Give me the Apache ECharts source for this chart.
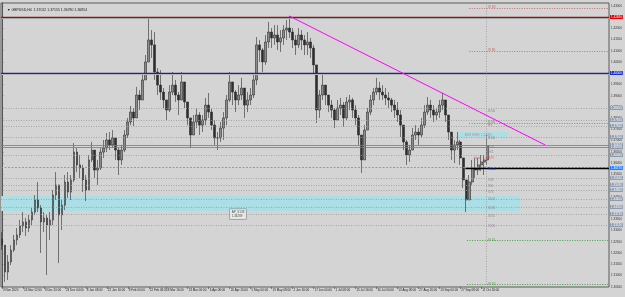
<!DOCTYPE html>
<html lang="en">
<head>
<meta charset="UTF-8">
<title>GBPUSD,H4</title>
<script src="https://cdn.jsdelivr.net/npm/echarts@6.0.0/dist/echarts.min.js"></script>
<style>
  html, body { margin: 0; padding: 0; background: #d4d4d4; }
  #chart { width: 625px; height: 297px; }
</style>
</head>
<body>
<div id="chart"></div>
<script>
// H4 candles (one candle per ~3px column)
const highs = [
  1.3293,1.3213,1.3191,1.3235,1.3280,1.3311,1.3347,1.3382,1.3356,1.3369,
  1.3400,1.3458,1.3516,1.3413,1.3382,1.3369,1.3382,1.3480,1.3560,1.3503,
  1.3436,1.3547,1.3560,1.3547,1.3689,1.3667,1.3636,1.3592,1.3547,1.3636,
  1.3694,1.3658,1.3614,1.3667,1.3703,1.3734,1.3738,1.3747,1.3712,1.3667,
  1.3681,1.3747,1.3801,1.3854,1.3845,1.3939,1.3925,1.3992,1.4081,1.4250,
  1.4192,1.4183,1.4023,1.4014,1.3934,1.3881,1.3947,1.4005,1.3970,1.3916,
  1.4005,1.3947,1.3858,1.3792,1.3814,1.3845,1.3827,1.3814,1.3890,1.3912,
  1.3845,1.3792,1.3738,1.3783,1.3827,1.3903,1.4005,1.3961,1.3925,1.3947,
  1.3979,1.3934,1.3916,1.3934,1.3992,1.4161,1.4148,1.4112,1.4170,1.4228,
  1.4201,1.4214,1.4214,1.4192,1.4214,1.4237,1.4255,1.4201,1.4170,1.4201,
  1.4192,1.4170,1.4183,1.4157,1.4126,1.3947,1.3925,1.4001,1.3947,1.3903,
  1.3881,1.3845,1.3881,1.3890,1.3872,1.3894,1.3903,1.3890,1.3858,1.3814,
  1.3703,1.3769,1.3845,1.3903,1.3934,1.3979,1.3961,1.3947,1.3934,1.3916,
  1.3890,1.3881,1.3872,1.3836,1.3769,1.3703,1.3681,1.3756,1.3769,1.3756,
  1.3801,1.3858,1.3894,1.3881,1.3858,1.3845,1.3881,1.3912,1.3872,1.3801,
  1.3725,1.3703,1.3738,1.3703,1.3623,1.3503,1.3547,1.3614,1.3623,1.3623,
  1.3636,1.3636,1.3725
];
const lows = [
  1.3213,1.3071,1.3080,1.3146,1.3204,1.3235,1.3267,1.3293,1.3276,1.3293,
  1.3324,1.3369,1.3382,1.3200,1.3293,1.3102,1.3258,1.3324,1.3436,1.3155,
  1.3302,1.3391,1.3445,1.3436,1.3516,1.3560,1.3534,1.3471,1.3431,1.3503,
  1.3605,1.3534,1.3503,1.3569,1.3623,1.3649,1.3658,1.3667,1.3614,1.3547,
  1.3592,1.3649,1.3712,1.3769,1.3765,1.3814,1.3836,1.3881,1.3970,1.4059,
  1.4068,1.3970,1.3903,1.3881,1.3845,1.3792,1.3827,1.3903,1.3872,1.3814,
  1.3881,1.3845,1.3769,1.3667,1.3725,1.3756,1.3725,1.3738,1.3769,1.3801,
  1.3747,1.3681,1.3658,1.3694,1.3703,1.3769,1.3872,1.3858,1.3827,1.3858,
  1.3881,1.3801,1.3827,1.3858,1.3890,1.3947,1.4050,1.4005,1.4037,1.4112,
  1.4112,1.4126,1.4103,1.4094,1.4126,1.4148,1.4157,1.4112,1.4081,1.4112,
  1.4103,1.4081,1.4081,1.4068,1.3992,1.3778,1.3801,1.3881,1.3858,1.3827,
  1.3801,1.3756,1.3801,1.3814,1.3761,1.3792,1.3836,1.3801,1.3769,1.3681,
  1.3556,1.3623,1.3747,1.3814,1.3858,1.3903,1.3881,1.3881,1.3858,1.3845,
  1.3827,1.3801,1.3783,1.3716,1.3658,1.3592,1.3605,1.3658,1.3703,1.3681,
  1.3712,1.3756,1.3814,1.3801,1.3783,1.3792,1.3801,1.3836,1.3783,1.3703,
  1.3614,1.3600,1.3658,1.3592,1.3489,1.3382,1.3436,1.3503,1.3534,1.3547,
  1.3565,1.3547,1.3592
];
const closes = [
  1.3235,1.3115,1.3160,1.3213,1.3258,1.3280,1.3320,1.3338,1.3311,1.3347,
  1.3382,1.3436,1.3400,1.3338,1.3356,1.3324,1.3347,1.3458,1.3503,1.3369,
  1.3413,1.3516,1.3471,1.3525,1.3649,1.3592,1.3578,1.3525,1.3480,1.3614,
  1.3658,1.3569,1.3578,1.3649,1.3667,1.3703,1.3681,1.3712,1.3658,1.3614,
  1.3658,1.3725,1.3783,1.3827,1.3801,1.3903,1.3881,1.3970,1.4050,1.4148,
  1.4126,1.4005,1.3947,1.3916,1.3881,1.3836,1.3916,1.3947,1.3903,1.3881,
  1.3961,1.3872,1.3801,1.3725,1.3783,1.3814,1.3769,1.3792,1.3858,1.3827,
  1.3769,1.3712,1.3712,1.3756,1.3801,1.3881,1.3961,1.3916,1.3881,1.3903,
  1.3934,1.3858,1.3881,1.3903,1.3970,1.4126,1.4103,1.4050,1.4139,1.4183,
  1.4157,1.4170,1.4139,1.4157,1.4192,1.4201,1.4183,1.4148,1.4126,1.4170,
  1.4148,1.4126,1.4139,1.4112,1.4037,1.3836,1.3903,1.3947,1.3903,1.3858,
  1.3836,1.3792,1.3845,1.3858,1.3801,1.3872,1.3881,1.3836,1.3801,1.3725,
  1.3614,1.3747,1.3827,1.3881,1.3916,1.3934,1.3916,1.3903,1.3890,1.3881,
  1.3858,1.3836,1.3814,1.3769,1.3694,1.3636,1.3658,1.3725,1.3738,1.3725,
  1.3769,1.3827,1.3858,1.3836,1.3814,1.3827,1.3858,1.3881,1.3814,1.3738,
  1.3658,1.3681,1.3694,1.3623,1.3525,1.3436,1.3516,1.3578,1.3569,1.3592,
  1.3605,1.3614,1.3676
];
const firstOpen = 1.3262;

// time axis: candle index where each date label sits
const labelIdx = [0,7,14,21,28,35,42,49,55,62,69,76,83,90,97,104,111,118,125,132,139,146,153,160];
const timeLabels = ['3 Nov 2020','24 Nov 12:00','8 Dec 20:00','23 Dec 04:00','8 Jan 08:00','22 Jan 16:00',
  '8 Feb 00:00','22 Feb 08:00','8 Mar 16:00','23 Mar 00:00','6 Apr 08:00','20 Apr 16:00','5 May 00:00',
  '19 May 08:00','2 Jun 16:00','17 Jun 00:00','1 Jul 08:00','15 Jul 16:00','30 Jul 00:00','13 Aug 08:00',
  '27 Aug 16:00','13 Sep 00:00','27 Sep 08:00','11 Oct 16:00'];
const priceTicks = [1.305,1.310,1.315,1.320,1.325,1.330,1.335,1.340,1.345,1.350,1.355,1.360,1.365,
  1.370,1.375,1.380,1.385,1.390,1.395,1.400,1.405,1.410,1.415,1.420,1.425,1.430];

// levels drawn on the chart
const fibLevels = [1.3845,1.3792,1.3765,1.3716,1.3636,1.3534,1.3503,1.3480,1.3440,1.3405,1.3373,1.3324];
const bidAsk = [1.3681,1.3670];
const topLine = 1.4250, topLineShadow = 1.4245;
const roundLine = 1.4001, roundLineShadow = 1.3995;
const pivotDash = 1.3583, pivotLine = 1.3578;
const weeklyRed = [1.4290,1.4099,1.3778];
const weeklyGreen = [1.3258,1.3062];
const zone = [1.3454,1.3387];
const adrBox = [1.3738,1.3712];
const trendFrom = [96,1.4254], trendTo = [181.3,1.3681];

const fibNames = ['R200','R138','R100','R78','R61','S38','S61','S78','S100','S138','S161','S200'];
const fibNamePrices = [1.3832,1.3783,1.3712,1.3672,1.3649,1.3525,1.3498,1.3471,1.3440,1.3400,1.3365,1.3320];

const candles = closes.map((c, i) => {
  const o = i === 0 ? firstOpen : closes[i - 1];
  return [i, o, c, Math.min(lows[i], o, c), Math.max(highs[i], o, c)];
});

const xMin = -1 / 3, xMax = 203 - 1 / 3, labelX = 162.3;

// price box drawn on the right axis at the end of a line
function boxLabel(v, bg) {
  return {
    show: true, position: 'end', distance: 1, fontSize: 3, color: '#fff',
    backgroundColor: bg, padding: [0.5, 1], fontFamily: 'Liberation Sans',
    formatter: () => v.toFixed(5)
  };
}
const noLabel = { show: false };

const bgLines = [];
fibLevels.forEach(v => bgLines.push({ yAxis: v, lineStyle: { color: '#9a9a9a', type: [1, 1.5], width: 0.8 }, label: boxLabel(v, '#8d9cb0') }));
bidAsk.forEach(v => bgLines.push({ yAxis: v, lineStyle: { color: '#7c7c7c', type: 'solid', width: 0.8 }, label: boxLabel(v, '#8d9cb0') }));
bgLines.push({ yAxis: pivotDash, lineStyle: { color: '#7090c8', type: [2, 1.5], width: 0.8 }, label: noLabel });
bgLines.push({ yAxis: topLineShadow, lineStyle: { color: '#8ae4e4', type: 'solid', width: 1 }, label: noLabel });
bgLines.push({ yAxis: topLine, lineStyle: { color: '#c00000', type: 'solid', width: 1.3 }, label: boxLabel(1.4248, '#e00000') });
bgLines.push({ yAxis: roundLineShadow, lineStyle: { color: '#e6e6b0', type: 'solid', width: 1 }, label: noLabel });
bgLines.push({ yAxis: roundLine, lineStyle: { color: '#2020b0', type: 'solid', width: 1.3 }, label: boxLabel(1.4000, '#1a30d0') });
weeklyRed.forEach(v => bgLines.push([
  { coord: [156, v], lineStyle: { color: '#c86060', type: [1, 1.5], width: 0.9 }, label: noLabel },
  { coord: [xMax, v] }
]));
weeklyGreen.forEach(v => bgLines.push([
  { coord: [155.3, v], lineStyle: { color: '#3c9a3c', type: [1, 1.5], width: 0.9 }, label: noLabel },
  { coord: [xMax, v] }
]));
bgLines.push({ xAxis: 161.7, lineStyle: { color: '#9a9a9a', type: [1, 1.5], width: 0.8 }, label: noLabel });

const textItems = fibNames.map((n, i) => ({ value: [labelX, fibNamePrices[i]], name: n, label: { color: '#7a7a7a' } }));
textItems.push({ value: [labelX, 1.3769], name: 'R1', label: { color: '#d04040' } });
textItems.push({ value: [labelX, 1.3574], name: 'Pivot', label: { color: '#1030c0', fontWeight: 'bold' } });
textItems.push({ value: [labelX, 1.4292], name: 'W R2', label: { color: '#c05050' } });
textItems.push({ value: [labelX, 1.4101], name: 'W R1', label: { color: '#c05050' } });
textItems.push({ value: [labelX, 1.3255], name: 'W S1', label: { color: '#3a8a3a' } });
textItems.push({ value: [labelX, 1.3060], name: 'W S2', label: { color: '#3a8a3a' } });
textItems.push({ value: [154.5, 1.3726], name: 'ADR HIGH  1.37480', label: { color: '#c87878' } });
textItems.push({ value: [157.5, 1.3623], name: 'Open  1.36429', label: { color: '#d05050' } });

const chart = echarts.init(document.getElementById('chart'));
chart.setOption({
  animation: false,
  backgroundColor: '#d4d4d4',
  textStyle: { fontFamily: 'Liberation Sans' },
  title: {
    text: '\u25BC GBPUSD,H4  1.37012 1.37155 1.36780 1.36854',
    left: 2, top: 3,
    textStyle: { fontSize: 3.5, fontWeight: 'normal', color: '#222', fontFamily: 'Liberation Sans' }
  },
  grid: { left: 0, right: 16, top: 3, bottom: 10, show: true, borderColor: '#5a5a5a', borderWidth: 1 },
  xAxis: {
    type: 'value', min: xMin, max: xMax,
    axisLine: { show: false },
    splitLine: { show: false },
    axisTick: { show: true, customValues: labelIdx, length: 2, lineStyle: { color: '#444', width: 0.6 } },
    axisLabel: {
      customValues: labelIdx, fontSize: 3, color: '#222', margin: 2, align: 'left', padding: [0, 0, 0, 1],
      formatter: v => timeLabels[labelIdx.indexOf(v)] || ''
    }
  },
  yAxis: {
    type: 'value', position: 'right', min: 1.30486, max: 1.43124,
    axisLine: { show: true, lineStyle: { color: '#555', width: 1 } },
    splitLine: { show: false },
    axisTick: { show: true, customValues: priceTicks, length: 1.5, lineStyle: { color: '#555', width: 0.6 } },
    axisLabel: { customValues: priceTicks, fontSize: 3, color: '#333', margin: 2, formatter: v => v.toFixed(5) }
  },
  series: [
    {
      type: 'line', data: [], z: 1, silent: true,
      markArea: {
        silent: true,
        data: [
          [{ coord: [xMin, zone[0]], itemStyle: { color: '#abdfe5' } }, { coord: [173, zone[1]] }],
          [{ coord: [152, adrBox[0]], itemStyle: { color: '#abdfe5' } }, { coord: [169, adrBox[1]] }]
        ]
      },
      markLine: { silent: true, precision: 5, symbol: ['none', 'none'], lineStyle: { type: 'solid' }, data: bgLines }
    },
    {
      type: 'candlestick', z: 3, barWidth: 2.2,
      encode: { x: 0, y: [1, 2, 3, 4] },
      itemStyle: { color: '#8c8c8c', color0: '#2e2e2e', borderColor: '#2e2e2e', borderColor0: '#2e2e2e', borderWidth: 0.6 },
      data: candles
    },
    {
      type: 'line', data: [], z: 5, silent: true,
      markLine: {
        silent: true, precision: 5, symbol: ['none', 'none'], lineStyle: { type: 'solid' },
        data: [
          [{ coord: trendFrom, lineStyle: { color: '#ff00ff', width: 1, type: 'solid' }, label: noLabel }, { coord: trendTo }],
          [{ coord: [154.7, pivotLine], lineStyle: { color: '#000', width: 1.3, type: 'solid' }, label: boxLabel(1.36570, '#1e7fff') }, { coord: [xMax, pivotLine] }]
        ]
      }
    },
    {
      type: 'scatter', z: 6, symbolSize: 0, silent: true,
      label: { show: true, position: 'right', distance: 0, fontSize: 3, formatter: p => p.name },
      data: textItems
    },
    {
      type: 'scatter', z: 7, symbolSize: 0, silent: true,
      label: {
        show: true, position: 'inside', fontSize: 3, lineHeight: 4, color: '#222', align: 'left',
        backgroundColor: '#efefef', borderColor: '#666', borderWidth: 0.5, padding: [1, 2],
        formatter: 'AP_S138\n1.34289'
      },
      data: [[76, 1.3373]]
    }
  ]
});
</script>
</body>
</html>
